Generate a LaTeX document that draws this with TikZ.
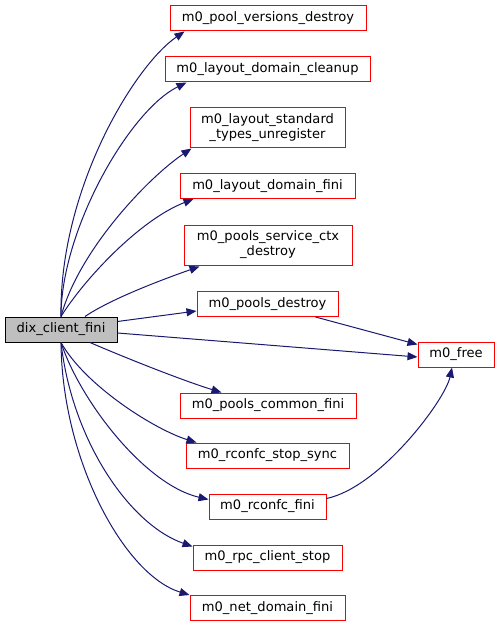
\documentclass[tikz,border=0pt]{standalone}
\usepackage{fontspec}
\setmainfont{DejaVu Sans}
\usetikzlibrary{arrows.meta,calc}
\definecolor{edgeblue}{RGB}{25,25,112}
\tikzset{
  fn/.style={draw=red, line width=0.75pt, fill=white, inner sep=0pt, minimum height=18.75pt,
    font=\fontsize{9.8pt}{11.3pt}\selectfont, align=center},
  fntwo/.style={fn, minimum height=30pt},
  rootfn/.style={fn, draw=black, fill={rgb,255:red,191;green,191;blue,191}},
  call/.style={draw=edgeblue, line width=0.75pt, -{Triangle[length=7.5pt,width=6pt]}}
}
\begin{document}
\begin{tikzpicture}[x=0.75pt,y=-0.75pt]
\useasboundingbox (0,0) rectangle (500,627);
\node[fn, minimum width=147pt] (pv) at (268,18.5) {m0\_pool\_versions\_destroy};
\node[fn, minimum width=153.75pt] (lc) at (267.5,69.5) {m0\_layout\_domain\_cleanup};
\node[fntwo, minimum width=116.25pt] (lsu) at (267.5,128) {m0\_layout\_standard\\\_types\_unregister};
\node[fn, minimum width=131.25pt] (lf) at (267.5,186) {m0\_layout\_domain\_fini};
\node[fntwo, minimum width=126pt] (psc) at (268,245) {m0\_pools\_service\_ctx\\\_destroy};
\node[fn, minimum width=105.75pt] (pd) at (267.5,304) {m0\_pools\_destroy};
\node[rootfn, minimum width=84pt] (dix) at (61,329.5) {dix\_client\_fini};
\node[fn, minimum width=57pt] (free) at (456,354.5) {m0\_free};
\node[fn, minimum width=132pt] (pcf) at (268,405.5) {m0\_pools\_common\_fini};
\node[fn, minimum width=122.25pt] (rss) at (267.5,455.5) {m0\_rconfc\_stop\_sync};
\node[fn, minimum width=87.75pt] (rf) at (267.5,506.5) {m0\_rconfc\_fini};
\node[fn, minimum width=111.75pt] (rcs) at (267.5,557.5) {m0\_rpc\_client\_stop};
\node[fn, minimum width=116.25pt] (ndf) at (267.5,608) {m0\_net\_domain\_fini};

\draw[call] (dix.north) .. controls +(-2,-127) and +(-50,34) .. ($(pv.south west)+(15,0)$);
\draw[call] (dix.north) .. controls +(0,-87) and +(-57,28) .. ($(lc.south west)+(22,0)$);
\draw[call] (dix.north) .. controls +(18,-67) and +(-42,28) .. ($(lsu.south west)+(2,0)$);
\draw[call] (dix.north) .. controls +(23,-37) and +(-54,21) .. ($(lf.south west)+(14,0)$);
\draw[call] ($(dix.north)+(24,0)$) .. controls +(25,-17) and +(-40,14) .. ($(psc.south west)+(16,1)$);
\draw[call] ($(dix.north east)+(0,5)$) -- ($(pd.west)+(0,7)$);
\draw[call] ($(dix.east)+(0,3.5)$) -- ($(free.west)+(0,2.5)$);
\draw[call] ($(pd.south east)+(-23,0)$) -- ($(free.north west)+(0,3)$);
\draw[call] ($(dix.south)+(29,0)$) .. controls +(30,13) and +(-42,-13) .. ($(pcf.north west)+(42,0)$);
\draw[call] (dix.south) .. controls +(24,43) and +(-42,-13) .. ($(rss.north west)+(11,0)$);
\draw[call] (dix.south) .. controls +(19,58) and +(-64,-15) .. ($(rf.west)+(0,-7)$);
\draw[call] (dix.south) .. controls +(11,98) and +(-63,-22) .. ($(rcs.north west)+(0,2)$);
\draw[call] (dix.south) .. controls +(1,118) and +(-65,-20) .. (ndf.north west);
\draw[call] ($(rf.north east)+(0,5)$) .. controls +(53,-11) and +(-7,33) .. ($(free.south)+(-4,0)$);
\end{tikzpicture}
\end{document}
